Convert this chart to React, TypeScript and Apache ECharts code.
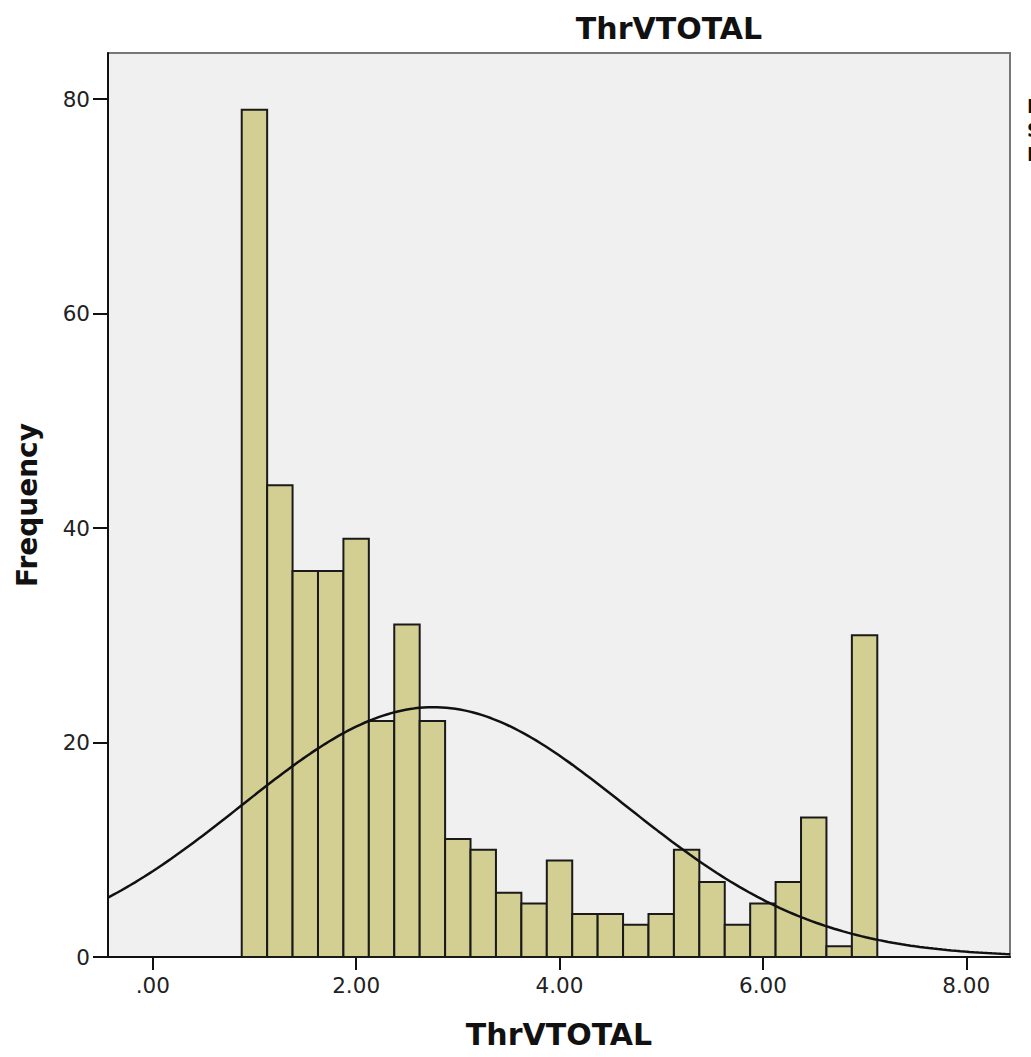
import React, { useEffect, useRef } from "react";
import * as echarts from "echarts";

const TITLE = "ThrVTOTAL";
const X_NAME = "ThrVTOTAL";
const Y_NAME = "Frequency";
const BIN_WIDTH = 0.25;
const BIN_LOWER = [
  0.875, 1.125, 1.375, 1.625, 1.875, 2.125, 2.375, 2.625, 2.875, 3.125, 3.375, 3.625, 3.875,
  4.125, 4.375, 4.625, 4.875, 5.125, 5.375, 5.625, 5.875, 6.125, 6.375, 6.625, 6.875,
];
const COUNTS = [79, 44, 36, 36, 39, 22, 31, 22, 11, 10, 6, 5, 9, 4, 4, 3, 4, 10, 7, 3, 5, 7, 13, 1, 30];
const X_TICKS = [0, 2, 4, 6, 8];
const MEAN = 2.76;
const SD = 1.888;
const N = 441;
const LEGEND_LINES = ["Mean = 2.76", "Std. Dev. = 1.888", "N = 441"];
const X_MIN = -0.44;
const X_MAX = 8.43;

export default function App() {
  const ref = useRef<HTMLDivElement>(null);
  useEffect(() => {
    document.body.style.margin = "0";
    if (!ref.current) return;
    const chart = echarts.init(ref.current, null, { renderer: "svg" });
    const barData = BIN_LOWER.map((lo, i) => [lo, lo + BIN_WIDTH, COUNTS[i]]);
    const curve: number[][] = [];
    const steps = 200;
    for (let i = 0; i <= steps; i++) {
      const x = X_MIN + ((X_MAX - X_MIN) * i) / steps;
      const z = (x - MEAN) / SD;
      const y = (N * BIN_WIDTH) / (SD * Math.sqrt(2 * Math.PI)) * Math.exp(-0.5 * z * z);
      curve.push([x, y]);
    }
    chart.setOption({
      animation: false,
      backgroundColor: "#ffffff",
      textStyle: { fontFamily: "DejaVu Sans" },
      title: {
        text: TITLE,
        left: 664,
        top: 8,
        textAlign: "center",
        textStyle: { fontSize: 30, fontWeight: "bold", color: "#111", fontFamily: "DejaVu Sans" },
      },
      grid: {
        left: 108,
        right: 21,
        top: 53,
        bottom: 100,
        show: true,
        backgroundColor: "#f0f0f0",
        borderColor: "#777",
        borderWidth: 2,
        containLabel: false,
        outerBoundsMode: "none",
      },
      xAxis: {
        type: "value",
        min: X_MIN,
        max: X_MAX,
        name: X_NAME,
        nameLocation: "middle",
        nameGap: 62,
        nameTextStyle: { fontSize: 30, fontWeight: "bold", color: "#111" },
        axisLine: { show: true, onZero: false, lineStyle: { color: "#111", width: 2 } },
        axisTick: { show: true, length: 13, customValues: X_TICKS, lineStyle: { color: "#111", width: 2 } },
        axisLabel: {
          customValues: X_TICKS,
          fontSize: 21.5,
          color: "#222",
          margin: 17,
          formatter: (v: number) => (v === 0 ? ".00" : v.toFixed(2)),
        },
        splitLine: { show: false },
      },
      yAxis: {
        type: "value",
        min: 0,
        max: 84.3,
        interval: 20,
        name: Y_NAME,
        nameLocation: "middle",
        nameGap: 67,
        nameRotate: 90,
        nameTextStyle: { fontSize: 28, fontWeight: "bold", color: "#111" },
        axisLine: { show: true, onZero: false, lineStyle: { color: "#111", width: 2 } },
        axisTick: { show: true, length: 15, lineStyle: { color: "#111", width: 2 } },
        axisLabel: { fontSize: 21.5, color: "#222", margin: 18, showMaxLabel: false },
        splitLine: { show: false },
      },
      graphic: LEGEND_LINES.map((t, i) => ({
        type: "text",
        left: 1027,
        top: 96 + i * 24,
        style: { text: t, fontSize: 19, fontWeight: "bold", fill: "#111", fontFamily: "DejaVu Sans" },
      })),
      series: [
        {
          type: "custom",
          data: barData,
          encode: { x: [0, 1], y: 2 },
          renderItem: (params: any, api: any) => {
            const p0 = api.coord([api.value(0), 0]);
            const p1 = api.coord([api.value(1), api.value(2)]);
            return {
              type: "rect",
              shape: { x: p0[0], y: p1[1], width: p1[0] - p0[0], height: p0[1] - p1[1] },
              style: { fill: "#d3cf93", stroke: "#1a1a1a", lineWidth: 2 },
            };
          },
          z: 2,
        },
        {
          type: "line",
          data: curve,
          showSymbol: false,
          symbol: "none",
          lineStyle: { color: "#111", width: 2.5 },
          z: 3,
        },
      ],
    });
    return () => chart.dispose();
  }, []);
  return <div ref={ref} style={{ width: 1031, height: 1057 }} />;
}
